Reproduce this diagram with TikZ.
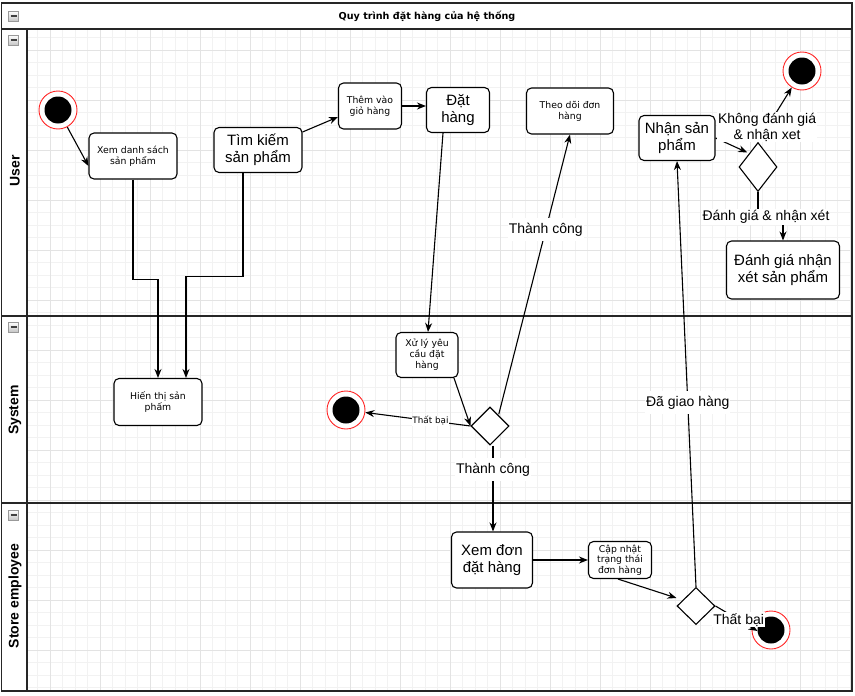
\documentclass[tikz,border=0pt]{standalone}
\usepackage{fontspec}
\setmainfont{Liberation Sans}
\newfontfamily\smallf{DejaVu Sans}
\usetikzlibrary{shapes.geometric,arrows.meta,calc}
\tikzset{
  frameline/.style={draw=black!85, line width=1.6pt},
  bigbox/.style={draw, rounded corners=5pt, fill=white, line width=1.1pt, align=center, inner sep=0pt,
    font=\fontsize{15}{17}\selectfont},
  smallbox/.style={draw, rounded corners=5pt, fill=white, line width=1.1pt, align=center, inner sep=0pt,
    font=\smallf\fontsize{9.3}{11}\selectfont},
  decision/.style={draw, diamond, fill=white, line width=1.1pt, inner sep=0pt},
  termnode/.style={circle, draw=red!85, line width=0.9pt, fill=white, minimum size=38pt, inner sep=0pt,
    path picture={\fill[black] (path picture bounding box.center) circle (13.5pt);}},
  conn/.style={line width=1.1pt, -{Stealth[length=9pt,width=7pt]}},
  lbl/.style={fill=white, inner xsep=1pt, inner ysep=5pt, font=\fontsize{14}{16}\selectfont, align=center},
  smalllbl/.style={fill=white, inner sep=0.5pt, font=\smallf\fontsize{8.8}{10}\selectfont},
  lanelbl/.style={rotate=90, font=\bfseries\fontsize{14}{16}\selectfont},
  iconbox/.style={draw=gray!80, line width=0.5pt, top color=white, bottom color=gray!45, minimum size=10pt, inner sep=0pt,
    path picture={\draw[black!75, line width=1.4pt] ([xshift=-3pt]path picture bounding box.center) -- ([xshift=3pt]path picture bounding box.center);}}
}
\begin{document}
\begin{tikzpicture}[x=1pt,y=-1pt]
\useasboundingbox (0,0) rectangle (855,696);
\fill[white] (0,0) rectangle (855,696);
% grid
\draw[gray!10, line width=0.5pt, step=12.5pt] (27,29) grid (852,691);
\draw[gray!22, line width=0.6pt, step=50pt] (27,29) grid (852,691);
% frame
\draw[frameline] (1.5,3) rectangle (852,691);
\draw[frameline] (1.5,29) -- (852,29);
\draw[frameline] (1.5,316) -- (852,316);
\draw[frameline] (1.5,503) -- (852,503);
\draw[frameline] (27,29) -- (27,691);
% title and lanes
\node[font=\smallf\bfseries\fontsize{9.6}{12}\selectfont] (title) at (427,16) {Quy trình đặt hàng của hệ thống};
\node[iconbox] (ic0) at (13.5,16) {};
\node[iconbox] (ic1) at (13.5,40) {};
\node[iconbox] (ic2) at (13.5,327) {};
\node[iconbox] (ic3) at (13.5,515) {};
\node[lanelbl] (luser) at (15,171) {User};
\node[lanelbl] (lsys) at (15,410) {System};
\node[lanelbl] (lemp) at (15,596) {Store employee};
% nodes
\node[termnode] (s1) at (58,110) {};
\node[smallbox, minimum width=88pt, minimum height=46pt] (xem) at (133,156) {Xem danh sách\\sản phẩm};
\node[bigbox, minimum width=88pt, minimum height=45pt] (tim) at (258,150) {Tìm kiếm\\sản phẩm};
\node[smallbox, minimum width=88pt, minimum height=47pt] (hien) at (158,402) {Hiến thị sản\\phấm};
\node[smallbox, minimum width=63pt, minimum height=46pt] (them) at (370,106) {Thêm vào\\giỏ hàng};
\node[bigbox, minimum width=63pt, minimum height=45pt] (dat) at (458,110) {Đặt\\hàng};
\node[smallbox, minimum width=62pt, minimum height=45pt] (xuly) at (427,355) {Xử lý yêu\\cầu đặt\\hàng};
\node[decision, minimum width=38pt, minimum height=38pt] (d1) at (490,426) {};
\node[termnode] (e1) at (346,410) {};
\node[smallbox, minimum width=87pt, minimum height=46pt] (theo) at (570,111) {Theo dõi đơn\\hàng};
\node[bigbox, minimum width=81pt, minimum height=56pt] (xemdon) at (492,560) {Xem đơn\\đặt hàng};
\node[smallbox, minimum width=63pt, minimum height=37pt, font=\smallf\fontsize{9.3}{10.5}\selectfont] (cap) at (620,560) {Cập nhật\\trạng thái\\đơn hàng};
\node[decision, minimum width=38pt, minimum height=37pt] (d2) at (696,606) {};
\node[termnode] (e3) at (771,630) {};
\node[bigbox, minimum width=76pt, minimum height=45pt] (nhan) at (677,138) {Nhận sản\\phẩm};
\node[decision, minimum width=38pt, minimum height=49pt] (d3) at (758,167) {};
\node[termnode] (e2) at (802,71) {};
\node[bigbox, minimum width=113pt, minimum height=58pt] (danhgia) at (783,270) {Đánh giá nhận\\xét sản phẩm};
% connectors
\draw[conn] (s1) -- ([yshift=-10pt]xem.west);
\draw[conn] (xem.south) -- ++(0,100) -| (hien.north);
\draw[conn] ([xshift=-15pt]tim.south) -- ++(0,103) -| ([xshift=28pt]hien.north);
\draw[conn] ([yshift=18pt]tim.east) -- ([yshift=-11pt]them.west);
\draw[conn] (them.east) -- (them.east -| dat.west);
\draw[conn] ([xshift=-15pt]dat.south) -- ([xshift=1pt]xuly.north);
\draw[conn] ([xshift=27pt]xuly.south) -- (d1.west);
\draw[conn] (d1.west) -- node[smalllbl, pos=0.38] {Thất bại} (e1);
\draw[conn] ([xshift=-1pt,yshift=2pt]d1.north east) -- node[lbl, pos=0.66] {Thành công} (theo.south);
\draw[conn] ([xshift=3pt]d1.south) -- node[lbl, pos=0.28] {Thành công} ([xshift=3pt]d1.south |- xemdon.north);
\draw[conn] (xemdon.east) -- (xemdon.east -| cap.west);
\draw[conn] ([xshift=-2pt]cap.south) -- ([yshift=8pt]d2.west);
\draw[conn] (d2.north) -- node[lbl, pos=0.433] {Đã giao hàng} (nhan.south);
\draw[conn] (d2.east) -- node[lbl, inner ysep=1pt, pos=0.55] {Thất bại} ([xshift=6pt,yshift=-1pt]e3.west);
\draw[conn] (nhan.east) -- ([xshift=-1pt,yshift=2pt]d3.north west);
\draw[conn] (d3.north) -- node[lbl, inner ysep=1pt, pos=0.27] {Không đánh giá\\\& nhận xet} (e2);
\draw[conn] (d3.south) -- ++(0,25) node[lbl, inner ysep=1pt, xshift=8pt] {Đánh giá \& nhận xét} -| (danhgia.north);
\end{tikzpicture}
\end{document}
